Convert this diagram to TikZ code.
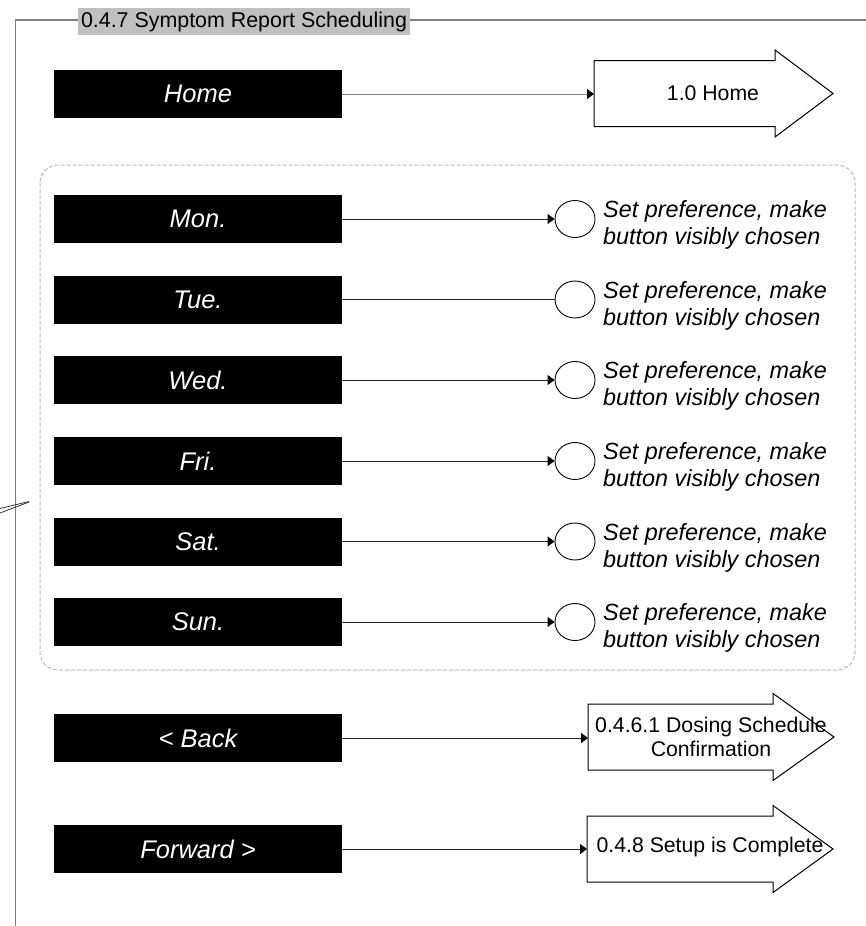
\documentclass[tikz,border=0pt]{standalone}
\usepackage{fontspec}
\setmainfont{Liberation Sans}
\usetikzlibrary{arrows.meta,shapes.geometric}
\definecolor{titlegray}{RGB}{192,192,192}
\definecolor{framegray}{RGB}{128,128,128}
\definecolor{dashgray}{RGB}{185,185,185}
\newcommand\blockarrow[4]{%
  \draw[blk] (#1,#2-33) -- (#3,#2-33) -- (#3,#2-43.5) -- (#4,#2) -- (#3,#2+43.5) -- (#3,#2+33) -- (#1,#2+33) -- cycle;}
\begin{document}
\begin{tikzpicture}[x=1pt,y=-1pt,
  daybox/.style={fill=black, draw=none, minimum width=288pt, minimum height=48pt, inner sep=0pt, text=white, font=\fontsize{25.5}{29}\selectfont\itshape},
  conn/.style={line width=1pt, draw=black!85, -{Triangle[length=7pt,width=10pt,color=black]}},
  plainconn/.style={line width=1pt, draw=black!85},
  radio/.style={ellipse, draw=black, line width=0.9pt, minimum width=40pt, minimum height=37pt, inner sep=0pt, fill=white},
  note/.style={anchor=west, inner sep=0pt, align=left, font=\fontsize{23.4}{26.9}\selectfont\itshape},
  blk/.style={draw=black, line width=1pt, fill=white},
  blktext/.style={inner sep=0pt, align=center, font=\fontsize{21.25}{24.4}\selectfont},
  blkrect/.style={draw=none, inner sep=0pt, anchor=west, minimum height=66pt},
  frameline/.style={draw=framegray, line width=1.2pt},
]
\useasboundingbox (0,0) rectangle (866,926);

% outer frame and title
\draw[frameline] (15.5,926) -- (15.5,20) -- (866,20);
\node[fill=titlegray, inner sep=0pt, minimum width=332pt, minimum height=27pt,
      font=\fontsize{21.4}{24.6}\selectfont] (title) at (244,21.5) {0.4.7 Symptom Report Scheduling};

% stray lines at left edge
\draw[black!80, line width=0.8pt] (0,508.5) -- (29,501.5);
\draw[black!80, line width=0.8pt] (0,513) -- (29,502);

% dashed group
\draw[draw=dashgray, dash pattern=on 4pt off 2pt, line width=1pt, rounded corners=18pt] (40,165) rectangle (855,670);

% buttons
\node[daybox] (home) at (198,94) {Home};
\node[daybox] (mon) at (198,219) {Mon.};
\node[daybox] (tue) at (198,299.5) {Tue.};
\node[daybox] (wed) at (198,380) {Wed.};
\node[daybox] (fri) at (198,461) {Fri.};
\node[daybox] (sat) at (198,541.5) {Sat.};
\node[daybox] (sun) at (198,622) {Sun.};
\node[daybox] (back) at (198,738) {< Back};
\node[daybox] (fwd) at (198,849) {Forward >};

% block arrow targets
\blockarrow{594}{93.5}{775}{833}
\node[blkrect, minimum width=181pt] (homeR) at (594,93.5) {};
\node[blktext] (homeT) at (713,93.5) {1.0 Home};

\blockarrow{588}{737}{773}{834}
\node[blkrect, minimum width=185pt] (backR) at (588,737) {};
\node[blktext] (backT) at (711,737) {0.4.6.1 Dosing Schedule\\Confirmation};

\blockarrow{587}{849}{773}{833}
\node[blkrect, minimum width=186pt] (fwdR) at (587,849) {};
\node[blktext] (fwdT) at (710,847) {0.4.8 Setup is Complete};

% radio buttons and notes
\foreach \n/\y in {1/219,2/299.5,3/380,4/461,5/541.5,6/622}{
  \node[radio] (c\n) at (575,\y) {};
  \node[note] (n\n) at (603,\y+6) {Set preference, make\\button visibly chosen};
}

% connectors
\draw[conn, draw=framegray] (home.east) -- (home.east -| homeR.west);
\draw[conn] (mon.east) -- (c1.west);
\draw[plainconn] (tue.east) -- (c2.west);
\draw[conn] (wed.east) -- (c3.west);
\draw[conn] (fri.east) -- (c4.west);
\draw[conn] (sat.east) -- (c5.west);
\draw[conn] (sun.east) -- (c6.west);
\draw[conn] (back.east) -- (back.east -| backR.west);
\draw[conn] (fwd.east) -- (fwd.east -| fwdR.west);
\end{tikzpicture}
\end{document}
